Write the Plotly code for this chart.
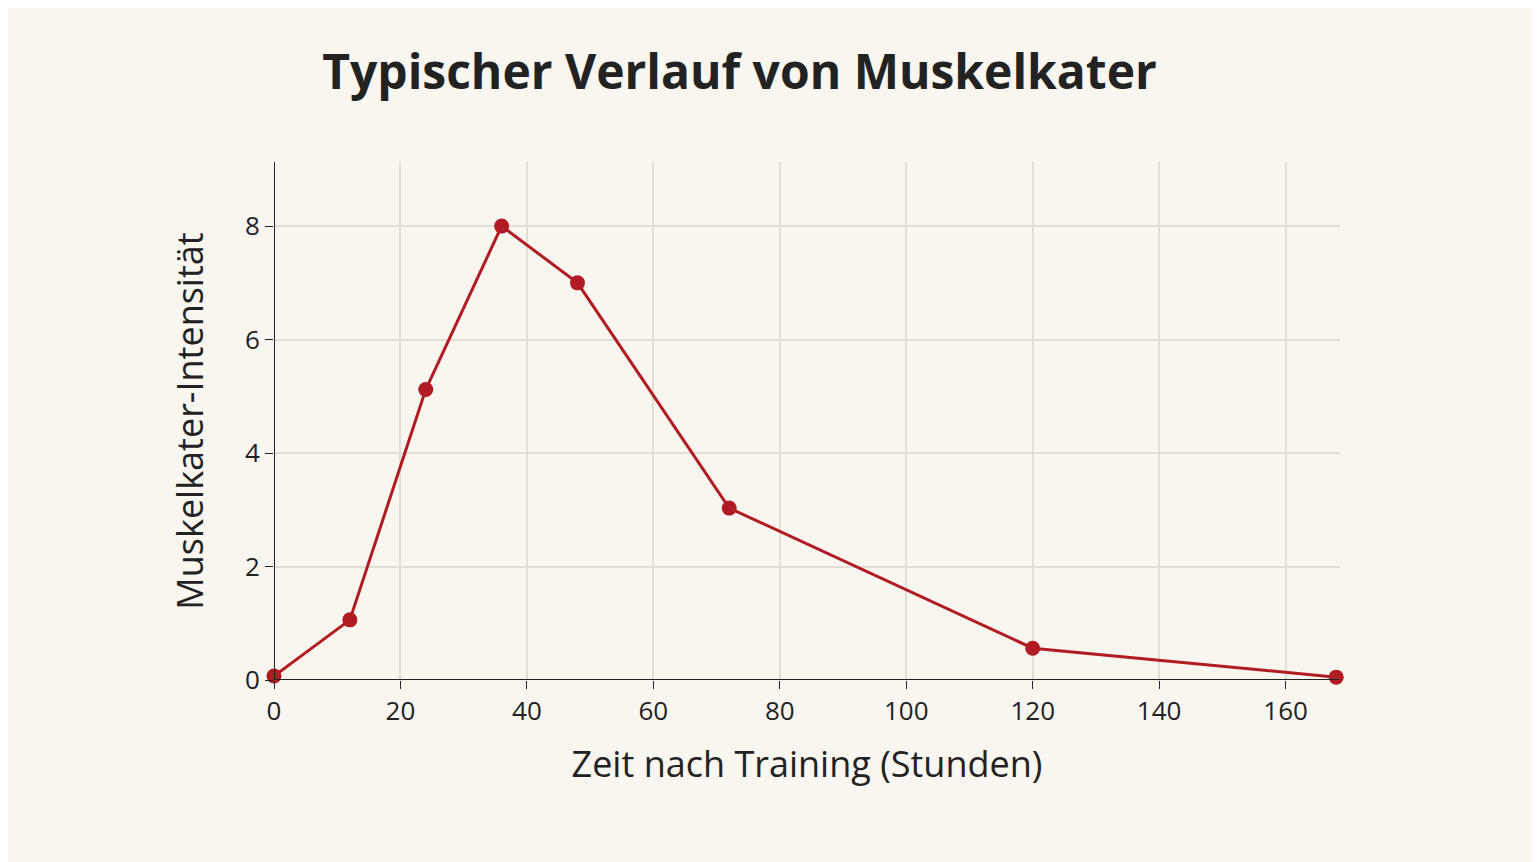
import plotly.graph_objects as go

hours = [0, 12, 24, 36, 48, 72, 120, 168]
intensity = [0.07, 1.06, 5.12, 8.0, 7.0, 3.03, 0.56, 0.05]
x_ticks = [0, 20, 40, 60, 80, 100, 120, 140, 160]
y_ticks = [0, 2, 4, 6, 8]

red = "#b01c22"
bg = "#f9f5ef"
grid = "#e2ddd7"

fig = go.Figure(go.Scatter(
    x=hours, y=intensity, mode="lines+markers",
    line=dict(color=red, width=3), marker=dict(color=red, size=15),
    cliponaxis=False, showlegend=False))

fig.update_layout(
    width=1540, height=862, paper_bgcolor=bg, plot_bgcolor=bg,
    margin=dict(l=266, r=208, t=154, b=190),
    font=dict(family="Open Sans, sans-serif", color="#222"),
    title=dict(text="<b>Typischer Verlauf von Muskelkater</b>", x=0.475, xanchor="center",
               y=0.925, yanchor="middle", font=dict(size=48, color="#222")),
)
fig.update_xaxes(range=[0, 168.6], tickvals=x_ticks, showgrid=True, gridcolor=grid, gridwidth=2,
                 zeroline=False, showline=False, ticks="outside", ticklen=8, tickcolor="#222",
                 tickfont=dict(size=26), title=dict(text="Zeit nach Training (Stunden)", font=dict(size=36), standoff=24))
fig.update_yaxes(range=[0, 9.13], tickvals=y_ticks, showgrid=True, gridcolor=grid, gridwidth=2,
                 zeroline=False, showline=False, ticks="outside", ticklen=8, tickcolor="#222",
                 tickfont=dict(size=26), title=dict(text="Muskelkater-Intensität", font=dict(size=36), standoff=30))
fig.add_shape(type="line", xref="x", yref="paper", x0=0, x1=0, y0=0, y1=1, line=dict(color="#222", width=2))
fig.add_shape(type="line", xref="paper", yref="y", x0=0, x1=1, y0=0, y1=0, line=dict(color="#222", width=2))
fig.write_html("out.html")
